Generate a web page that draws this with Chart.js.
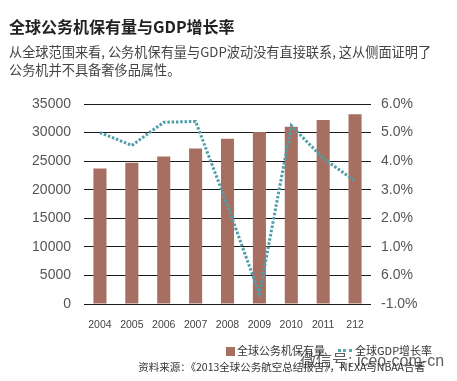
<!DOCTYPE html>
<html><head><meta charset="utf-8">
<script src="https://cdn.jsdelivr.net/npm/chart.js@4"></script>
<style>
html,body{margin:0;padding:0;background:#fff;}
#wrap{position:relative;width:457px;height:381px;overflow:hidden;font-family:"Noto Sans CJK SC",sans-serif;}
canvas{position:absolute;left:0;top:0;}
.t{position:absolute;white-space:nowrap;line-height:1;}
</style></head><body>
<div id="wrap">
<canvas id="c" width="457" height="381"></canvas>
<div class="t" style="left:9px;top:18px;font-size:16px;font-weight:bold;color:#222;">全球公务机保有量与GDP增长率</div>
<div class="t" style="left:9px;top:45px;font-size:13.2px;color:#444;">从全球范围来看, 公务机保有量与GDP波动没有直接联系, 这从侧面证明了</div>
<div class="t" style="left:9px;top:63px;font-size:13.2px;color:#444;">公务机并不具备奢侈品属性。</div>
<div class="t" style="left:226px;top:347px;width:9px;height:9px;background:#a66f62;"></div>
<div class="t" style="left:237px;top:345px;font-size:11px;color:#333;">全球公务机保有量</div>
<div class="t" style="left:338px;top:349px;width:14px;height:0;border-top:3px dotted #5aa6b0;"></div>
<div class="t" style="left:355px;top:345px;font-size:11px;color:#333;">全球GDP增长率</div>
<div class="t" style="right:32px;top:362px;font-size:10.5px;color:#333;">资料来源：《2013全球公务航空总结报告》，NEXA与NBAA合著</div>
<div class="t" style="left:300px;top:351px;font-size:16px;color:rgba(40,40,40,0.75);">微信号<span style="font-family:'Liberation Sans';">: iceo-com-cn</span></div>
</div>
<script>
const years = ['2004','2005','2006','2007','2008','2009','2010','2011','212'];
const fleet = [23700, 24700, 25800, 27200, 28900, 30100, 31000, 32200, 33200];
const gdpGrowth = [5.0, 4.55, 5.36, 5.39, 2.45, -0.65, 5.24, 4.1, 3.3];
const rightTickLabels = ['-1.0%','6.0%','1.0%','2.0%','3.0%','4.0%','5.0%','6.0%'];
const fleetName = '全球公务机保有量';
const gdpName = '全球GDP增长率';

new Chart(document.getElementById('c'), {
  type: 'bar',
  data: {
    labels: years,
    datasets: [
      {
        type: 'line', label: gdpName, data: gdpGrowth, yAxisID: 'y1',
        borderColor: '#4f9ea9', borderWidth: 3, borderDash: [2.5, 1.8],
        borderCapStyle: 'butt', pointRadius: 0, tension: 0, fill: false, order: 0
      },
      {
        type: 'bar', label: fleetName, data: fleet, yAxisID: 'y',
        backgroundColor: '#a66f62', barPercentage: 0.41, categoryPercentage: 1, order: 1
      }
    ]
  },
  options: {
    responsive: false,
    animation: false,
    devicePixelRatio: 1,
    layout: { padding: { top: 104, bottom: 53, left: 0, right: 0 } },
    plugins: { legend: { display: false }, tooltip: { enabled: false } },
    scales: {
      x: {
        grid: { display: false }, border: { display: false },
        ticks: { font: { family: 'Liberation Sans', size: 10.5 }, color: '#444', padding: 7, maxRotation: 0, autoSkip: false },
        afterFit: s => { s.height = 24; }
      },
      y: {
        position: 'left', min: 0, max: 35000,
        ticks: { stepSize: 5000, font: { family: 'Liberation Sans', size: 14 }, color: '#555', padding: 13,
          callback: v => String(v) },
        grid: { color: '#1a1a1a', lineWidth: 1, drawTicks: false },
        border: { display: false },
        afterFit: s => { s.width = 84; }
      },
      y1: {
        position: 'right', min: -1, max: 6,
        ticks: { stepSize: 1, font: { family: 'Liberation Sans', size: 14 }, color: '#555', padding: 10,
          callback: v => rightTickLabels[Math.round(v + 1)] },
        grid: { display: false, drawTicks: false },
        border: { display: false },
        afterFit: s => { s.width = 86; }
      }
    }
  }
});
</script>
</body></html>
